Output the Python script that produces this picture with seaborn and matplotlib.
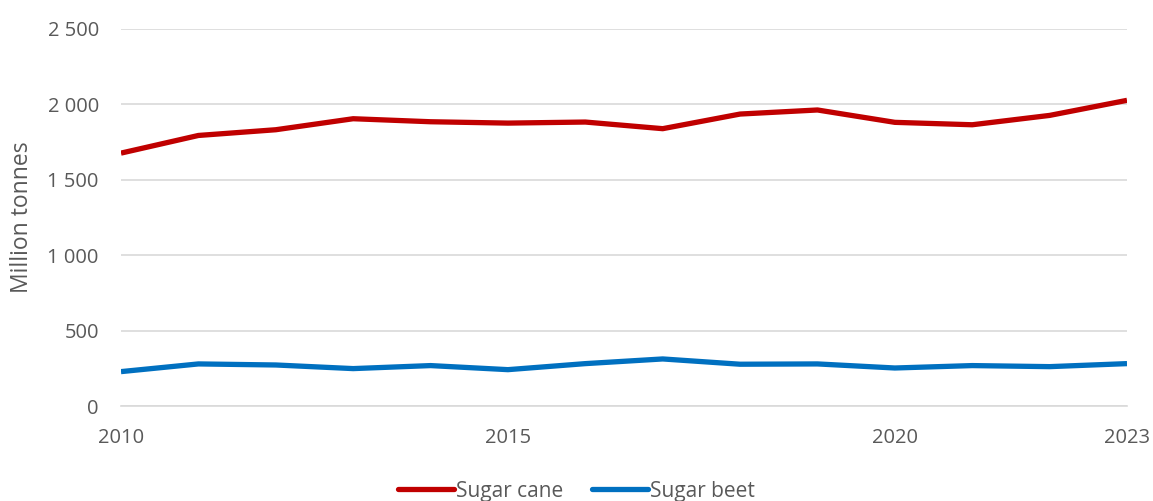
import matplotlib
matplotlib.use("Agg")
import matplotlib.pyplot as plt
import matplotlib.ticker as mticker
import numpy as np
import pandas as pd
import seaborn as sns

years = list(range(2010, 2024))
sugar_cane = [1677, 1794, 1832, 1905, 1885, 1876, 1883, 1839, 1936, 1963, 1881, 1865, 1927, 2027]
sugar_beet = [228, 279, 272, 248, 268, 241, 281, 312, 277, 279, 252, 268, 261, 281]
series_names = ["Sugar cane", "Sugar beet"]
series_colors = ["#C00000", "#0070C0"]
y_ticks = [0, 500, 1000, 1500, 2000, 2500]
x_labelled = [2010, 2015, 2020, 2023]

df = pd.DataFrame({
    "Year": years * 2,
    "Value": sugar_cane + sugar_beet,
    "Crop": [series_names[0]] * len(years) + [series_names[1]] * len(years),
})

sns.set_style("white")
plt.rcParams["font.family"] = ["Open Sans", "DejaVu Sans"]

fig = plt.figure(figsize=(11.53, 5.01), dpi=100)
ax = fig.add_axes([121 / 1153, 1 - 406 / 501, (1127 - 121) / 1153, (406 - 29) / 501])

sns.lineplot(data=df, x="Year", y="Value", hue="Crop", palette=series_colors,
             linewidth=3.8, ax=ax, legend=False, solid_capstyle="butt")

grey_text = "#595959"
grid_col = "#D9D9D9"

ax.set_xlim(2010, 2023)
ax.set_ylim(0, 2500)
ax.set_yticks(y_ticks)
ax.yaxis.set_major_formatter(mticker.FuncFormatter(lambda v, p: f"{int(v):,}".replace(",", " ")))
ax.set_xticks(years)
ax.set_xticklabels([str(y) if y in x_labelled else "" for y in years])
ax.grid(axis="y", color=grid_col, linewidth=1.2)
ax.set_axisbelow(True)
for s in ["top", "right", "left"]:
    ax.spines[s].set_visible(False)
ax.spines["bottom"].set_color(grid_col)
ax.spines["bottom"].set_linewidth(1.2)
ax.tick_params(axis="x", which="major", length=7, width=1.2, color=grid_col,
               direction="out", labelsize=14.5, labelcolor=grey_text, pad=9)
ax.tick_params(axis="y", length=0, labelsize=14.5, labelcolor=grey_text, pad=16)
ax.set_xlabel("")
ax.set_ylabel("Million tonnes", fontsize=16.5, color=grey_text, labelpad=10)

handles = [plt.Line2D([], [], color=c, linewidth=3.8, solid_capstyle="round") for c in series_colors]
leg = fig.legend(handles, series_names, loc="center", bbox_to_anchor=(0.5, 1 - 491 / 501),
                 ncol=2, frameon=False, fontsize=15, handlelength=2.7, handletextpad=0.1,
                 columnspacing=1.35)
for t in leg.get_texts():
    t.set_color(grey_text)

fig.savefig("out.png", dpi=100)
